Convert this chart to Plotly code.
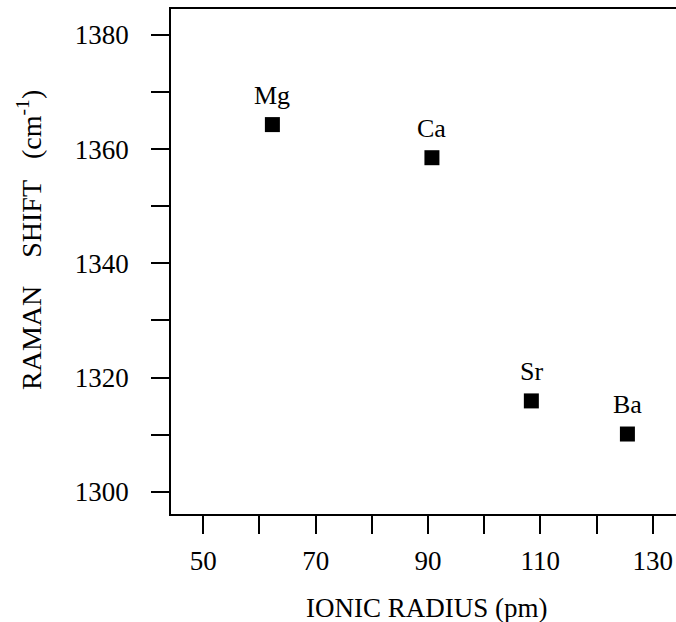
import plotly.graph_objects as go

elements = ["Mg", "Ca", "Sr", "Ba"]
ionic_radius = [62.3, 90.7, 108.4, 125.5]
raman_shift = [1364.3, 1358.5, 1315.9, 1310.1]

x_major_ticks = [50, 70, 90, 110, 130]
x_tick_labels = ["50", "70", "90", "110", "130"]
x_minor_ticks = [60, 80, 100, 120]
y_major_ticks = [1300, 1320, 1340, 1360, 1380]
y_tick_labels = ["1300", "1320", "1340", "1360", "1380"]
y_minor_ticks = [1310, 1330, 1350, 1370]

FONT = "Liberation Serif, Times New Roman, serif"

W, H = 676, 622
L, R, T, B = 171, 0, 9, 622 - 514
PW, PH = W - L - R, H - T - B

fig = go.Figure()
fig.add_trace(go.Scatter(
    x=ionic_radius, y=raman_shift, mode="markers",
    marker=dict(symbol="square", size=15, color="black"),
    showlegend=False, hoverinfo="skip", cliponaxis=False,
))

annotations = []
for name, xv, yv in zip(elements, ionic_radius, raman_shift):
    annotations.append(dict(
        text=name, x=xv, y=yv, xref="x", yref="y",
        xanchor="center", yanchor="bottom", yshift=13, showarrow=False,
        font=dict(family=FONT, size=26, color="black"),
    ))

def px_x(p):
    return (p - L) / PW

def px_y(p):
    return (T + PH - p) / PH

NB = "\u00a0"
annotations.append(dict(
    text="IONIC RADIUS (pm)", xref="paper", yref="paper",
    x=px_x(426), y=px_y(608),
    xanchor="center", yanchor="middle", showarrow=False,
    font=dict(family=FONT, size=27, color="black")))
annotations.append(dict(
    text="RAMAN" + NB * 4 + "SHIFT" + NB * 3 + "(cm<sup>-1</sup>)",
    xref="paper", yref="paper", textangle=-90,
    x=px_x(30), y=px_y(240),
    xanchor="center", yanchor="middle", showarrow=False,
    font=dict(family=FONT, size=28, color="black")))

tick_style = dict(ticks="outside", ticklen=18, tickwidth=1.5, tickcolor="black")

fig.update_layout(
    width=W, height=H,
    margin=dict(l=L, r=R, t=T, b=B),
    paper_bgcolor="white", plot_bgcolor="white",
    font=dict(family=FONT, size=27, color="black"),
    xaxis=dict(
        range=[44.25, 134.15], showgrid=False, zeroline=False,
        showline=True, linecolor="black", linewidth=1.5, mirror=True,
        tickmode="array", tickvals=x_major_ticks, ticktext=x_tick_labels,
        tickfont=dict(family=FONT, size=27, color="black"),
        ticklabelstandoff=4,
        minor=dict(tickmode="array", tickvals=x_minor_ticks, showgrid=False, **tick_style),
        **tick_style,
    ),
    yaxis=dict(
        range=[1296.09, 1384.55], showgrid=False, zeroline=False,
        showline=True, linecolor="black", linewidth=1.5,
        tickmode="array", tickvals=y_major_ticks, ticktext=y_tick_labels,
        tickfont=dict(family=FONT, size=27, color="black"),
        ticklabelstandoff=17,
        minor=dict(tickmode="array", tickvals=y_minor_ticks, showgrid=False, **tick_style),
        **tick_style,
    ),
    annotations=annotations,
)

fig.write_html(
    "out.html",
    config={"displayModeBar": False},
    post_script=(
        "document.documentElement.style.margin='0';"
        "document.body.style.margin='0';"
        "document.body.style.overflow='hidden';"
        "document.documentElement.style.overflow='hidden';"
    ),
)
